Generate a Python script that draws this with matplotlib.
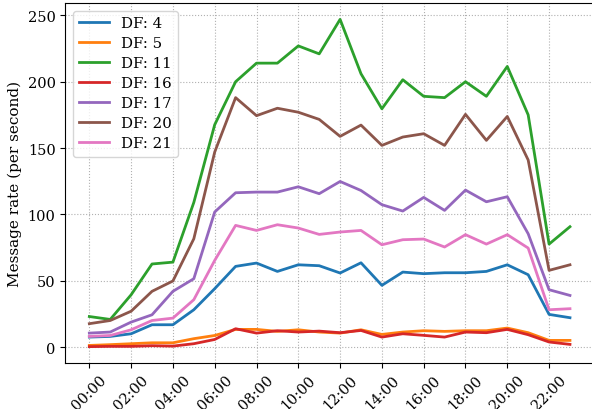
import matplotlib
matplotlib.use("Agg")
import matplotlib.pyplot as plt
import numpy as np

plt.rcParams['font.family'] = ['DejaVu Serif']
plt.rcParams['font.size'] = 10

hours = list(range(24))
tick_hours = list(range(0, 24, 2))
tick_labels = [f"{h:02d}:00" for h in tick_hours]

df4 = [7.5, 8, 10, 16.8, 16.8, 28.1, 44, 60.8, 63.3, 57, 62, 61.3, 55.8, 63.5, 46.5, 56.5, 55.3, 56, 56, 57, 62, 54.5, 24.6, 22.1]
df5 = [1.2, 1.8, 2.5, 3.2, 3.2, 6.3, 8.7, 13.3, 13.3, 11.8, 13, 11.3, 10.5, 13, 9.5, 11.3, 12.3, 11.8, 12.3, 12.3, 14.3, 10.8, 5, 5]
df11 = [23, 20.8, 39.4, 62.6, 64, 109, 167.6, 200, 214, 214, 227, 221, 247, 206, 179.6, 201.5, 189, 188, 200, 189, 211.5, 175, 77.6, 90.7]
df16 = [0.3, 0.5, 0.5, 1, 0.7, 2.5, 5.7, 13.8, 10.5, 12.3, 11.3, 12, 10.8, 12.5, 7.5, 10, 8.8, 7.5, 11.3, 10.8, 13.3, 9.3, 3.8, 2]
df17 = [10.5, 11.3, 18.8, 24.3, 42, 51.5, 101.8, 116.3, 116.8, 116.8, 120.8, 115.6, 124.8, 118, 107.3, 102.5, 112.8, 103, 118.3, 109.5, 113.3, 85.4, 43.2, 38.9]
df20 = [17.6, 20, 27, 42, 49.8, 81.6, 147, 188, 174.4, 180, 177, 171.6, 158.8, 167.3, 152, 158.3, 160.8, 152, 175.4, 155.8, 173.8, 141, 57.8, 62]
df21 = [8, 8.7, 13, 20, 21.8, 35.7, 65.3, 91.7, 87.9, 92.2, 89.7, 84.9, 86.7, 87.9, 77.1, 80.9, 81.4, 75.4, 84.7, 77.6, 84.7, 74.6, 28.1, 28.9]

series = [("DF: 4", df4), ("DF: 5", df5), ("DF: 11", df11), ("DF: 16", df16),
          ("DF: 17", df17), ("DF: 20", df20), ("DF: 21", df21)]

fig = plt.figure(figsize=(5.92, 4.10), dpi=100)
ax = fig.add_axes([65.3/592, 46/410, (594-65.3)/592, 360/410])

for label, vals in series:
    ax.plot(hours, vals, label=label, linewidth=2)

ax.set_xticks(tick_hours)
ax.set_xticklabels(tick_labels, rotation=45)
ax.set_yticks([0, 50, 100, 150, 200, 250])
ax.tick_params(labelsize=10.5)
ax.set_ylabel("Message rate (per second)", fontsize=11)
ax.grid(True, linestyle=':', color='#b0b0b0', linewidth=0.8)
ax.legend(loc='upper left', fontsize=10.8, labelspacing=0.4)

fig.savefig("out.png", dpi=100)
